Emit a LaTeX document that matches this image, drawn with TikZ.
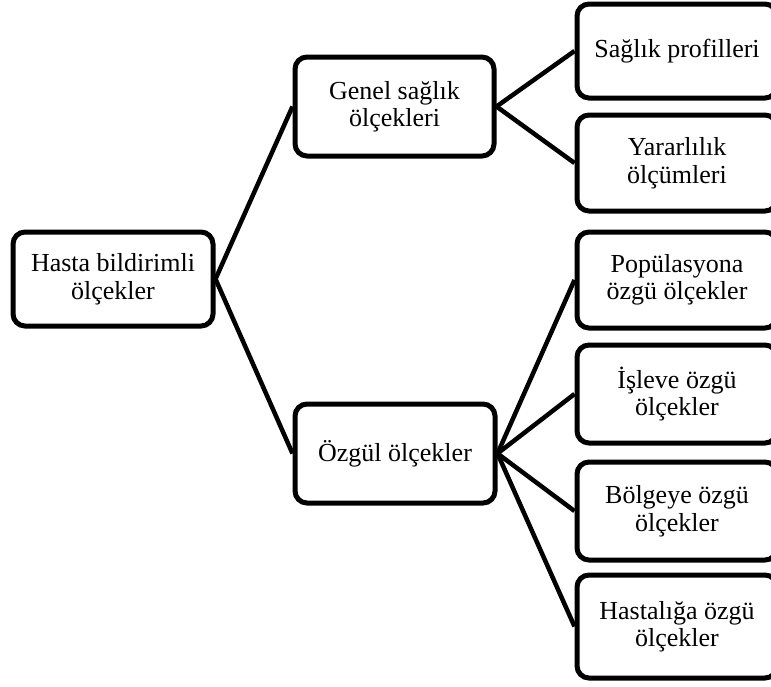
\documentclass[tikz,border=0pt]{standalone}
\usepackage{fontspec}
\setmainfont{Liberation Serif}
\begin{document}
\begin{tikzpicture}[x=1pt,y=-1pt,
  box/.style={draw=black,line width=5pt,rounded corners=12pt,fill=white,
    align=center,inner sep=0pt,minimum width=200pt,
    font=\fontsize{26}{27.5}\selectfont},
  link/.style={draw=black,line width=4.5pt}]
\useasboundingbox (0,0) rectangle (771,686);
\clip (0,0) rectangle (771,686);
\node[box,minimum height=94pt] (root) at (113,279) {Hasta bildirimli\\ölçekler};
\node[box,minimum width=199pt,minimum height=99pt] (gen) at (394.5,106.5) {Genel sağlık\\ölçekleri};
\node[box,minimum height=99pt] (ozg) at (395,453.5) {Özgül ölçekler};
\node[box,minimum height=94pt] (sp) at (677,51) {Sağlık profilleri};
\node[box,minimum height=96pt] (yo) at (677,163) {Yararlılık\\ölçümleri};
\node[box,minimum height=96pt] (po) at (677,280) {Popülasyona\\özgü ölçekler};
\node[box,minimum height=98pt] (io) at (677,394) {İşleve özgü\\ölçekler};
\node[box,minimum height=98pt] (bo) at (677,511) {Bölgeye özgü\\ölçekler};
\node[box,minimum height=103pt] (ho) at (677,626.5) {Hastalığa özgü\\ölçekler};
\draw[link] (root.east) -- (gen.west);
\draw[link] (root.east) -- (ozg.west);
\draw[link] (gen.east) -- (sp.west);
\draw[link] (gen.east) -- (yo.west);
\draw[link] (ozg.east) -- (po.west);
\draw[link] (ozg.east) -- (io.west);
\draw[link] (ozg.east) -- (bo.west);
\draw[link] (ozg.east) -- (ho.west);
\end{tikzpicture}
\end{document}
